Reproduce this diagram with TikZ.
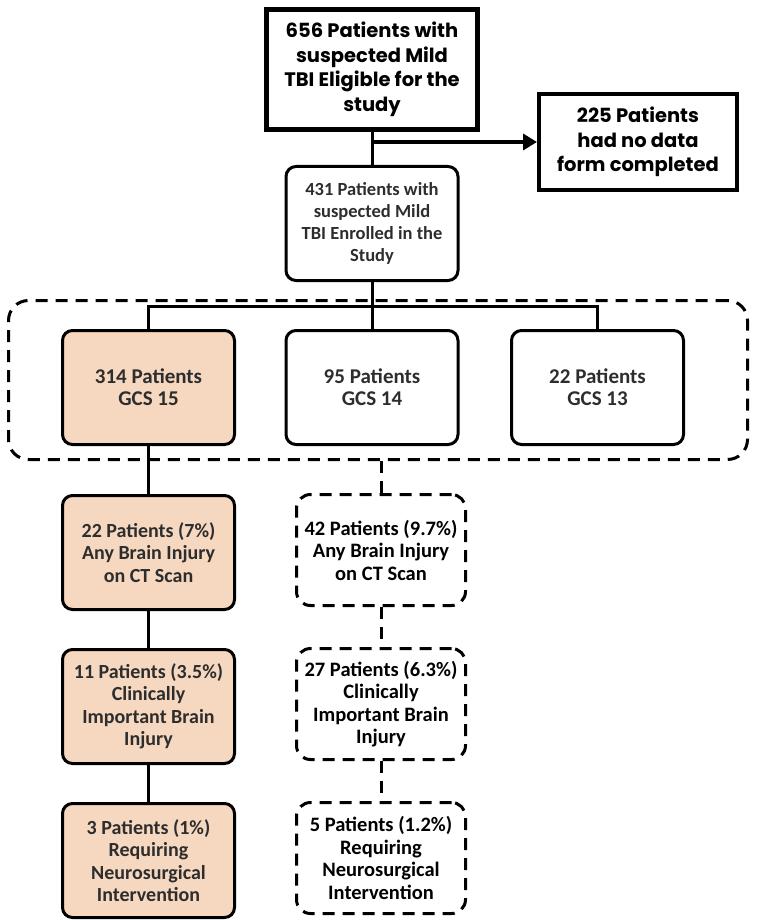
\documentclass[tikz,border=0pt]{standalone}
\usepackage{fontspec}
\setmainfont{Carlito}
\newfontfamily\gothic{Poppins}
\usetikzlibrary{positioning,arrows.meta}
\definecolor{peach}{RGB}{246,216,192}
\definecolor{ink}{RGB}{45,45,45}

\begin{document}
\begin{tikzpicture}[x=1pt,y=-1pt,node distance=37pt,
  every node/.style={align=center,inner sep=0pt},
  headbox/.style={draw,line width=5pt,minimum width=211pt,minimum height=120pt,
    font=\gothic\bfseries\fontsize{19.5}{24.5}\selectfont},
  dropbox/.style={draw,line width=4pt,minimum width=198pt,minimum height=96pt,
    font=\gothic\bfseries\fontsize{19.5}{24.5}\selectfont},
  roundbox/.style={draw,line width=3pt,rounded corners=10pt,minimum width=172pt,
    minimum height=114pt,font=\bfseries\fontsize{20}{22.5}\selectfont,text=ink},
  hitbox/.style={roundbox,fill=peach},
  dashbox/.style={draw,line width=3pt,rounded corners=14pt,dash pattern=on 12pt off 8pt,
    minimum width=169pt,minimum height=111pt,font=\bfseries\fontsize{20.5}{22.5}\selectfont},
  conn/.style={line width=3pt},
  dashconn/.style={line width=3pt,dash pattern=on 12pt off 8pt}]
\useasboundingbox (0,0) rectangle (756,920);
\node[draw,line width=3pt,rounded corners=20pt,dash pattern=on 12pt off 8pt,
      minimum width=739pt,minimum height=159pt]      (group)   at (378,380) {};
\node[headbox]                                    (elig)    at (372,69.5)
  {656 Patients with\\suspected Mild\\TBI Eligible for the\\study};
\node[dropbox]                                    (nodata)  at (638,142)
  {225 Patients\\had no data\\form completed};
\node[roundbox,font=\bfseries\fontsize{18.5}{21.7}\selectfont] (enrol) at (372,223.5)
  {431 Patients with\\suspected Mild\\TBI Enrolled in the\\Study};
\node[hitbox,font=\bfseries\fontsize{21}{21.7}\selectfont]    (gcs15)   at (148.5,387.5) {314 Patients\\GCS 15};
\node[roundbox,font=\bfseries\fontsize{21}{21.7}\selectfont]  (gcs14)   at (372,387.5)   {95 Patients\\GCS 14};
\node[roundbox,font=\bfseries\fontsize{21}{21.7}\selectfont]  (gcs13)   at (597.5,387.5) {22 Patients\\GCS 13};
\node[hitbox,below=48pt of gcs15]                 (ctany)   {22 Patients (7\%)\\Any Brain Injury\\on CT Scan};
\node[hitbox,below=of ctany]                      (ciinj)   {11 Patients (3.5\%)\\Clinically\\Important Brain\\Injury};
\node[hitbox,below=of ciinj]                      (neuro)   {3 Patients (1\%)\\Requiring\\Neurosurgical\\Intervention};
\node[dashbox]                                    (ctany2)  at (381,550)
  {42 Patients (9.7\%)\\Any Brain Injury\\on CT Scan};
\node[dashbox,below=40pt of ctany2]               (ciinj2)  {27 Patients (6.3\%)\\Clinically\\Important Brain\\Injury};
\node[dashbox,below=40pt of ciinj2]               (neuro2)  {5 Patients (1.2\%)\\Requiring\\Neurosurgical\\Intervention};
\coordinate (fork)  at (elig.south |- nodata.west);
\coordinate (split) at (372,306);
\coordinate (gcsin) at (group.south -| ctany2.north);
% solid flow
\draw[conn] (elig) -- (enrol);
\draw[line width=4pt,-{Triangle[length=14pt,width=16pt]}] (fork) -- (nodata);
\draw[conn] (enrol) -- (split) -| (gcs15);
\draw[conn] (split) -| (gcs13);
\draw[conn] (split) -- (gcs14);
\path[conn]
	(gcs15) edge (ctany)
	(ctany) edge (ciinj)
	(ciinj) edge (neuro)
; %-path-%
% dashed flow
\path[dashconn]
	(gcsin)  edge (ctany2)
	(ctany2) edge (ciinj2)
	(ciinj2) edge (neuro2)
; %-path-%
\end{tikzpicture}
\end{document}
